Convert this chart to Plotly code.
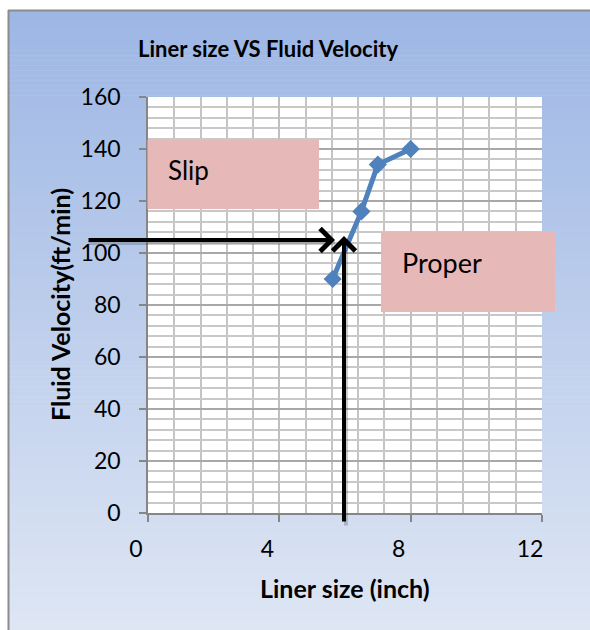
import plotly.graph_objects as go

# ---- data ----
liner_size = [5.625, 6.5, 7.0, 8.0]
fluid_velocity = [90, 116, 134, 140]
x_ticks = [0, 4, 8, 12]
y_ticks = [0, 20, 40, 60, 80, 100, 120, 140, 160]
title_text = "Liner size VS Fluid Velocity"
x_title = "Liner size (inch)"
y_title = "Fluid Velocity(ft/min)"
box_labels = ["Slip", "Proper"]

# ---- layout geometry (pixels) ----
W, H = 590, 630
ML, MR, MT, MB = 148, 48, 97, 117
L, R, T, B = ML, W - MR, MT, H - MB


def px(x):
    return (x - L) / (R - L)


def py(y):
    return (B - y) / (B - T)


FONT = "Lato"
fig = go.Figure()
fig.add_trace(go.Scatter(
    x=liner_size, y=fluid_velocity, mode="lines+markers",
    line=dict(color="#4F81BD", width=5),
    marker=dict(symbol="diamond", size=14, color="#4F81BD"),
    showlegend=False, hoverinfo="skip",
))

shapes = []
# gradient background
top = (157, 182, 228)
bot = (222, 230, 244)
y0, y1 = 10, 632
n = 124
step = (y1 - y0) / n
for i in range(n):
    t = i / (n - 1)
    c = tuple(round(top[k] + (bot[k] - top[k]) * t) for k in range(3))
    ya = y0 + i * step
    yb = ya + step + 0.6
    shapes.append(dict(type="rect", xref="paper", yref="paper",
                       x0=px(8), x1=px(592), y0=py(yb), y1=py(ya),
                       fillcolor="rgb(%d,%d,%d)" % c, line=dict(width=0), layer="below"))
# border
shapes.append(dict(type="line", xref="paper", yref="paper", x0=px(8.5), x1=px(8.5), y0=py(10), y1=py(632),
                   line=dict(color="#8C8C8C", width=2), layer="below"))
shapes.append(dict(type="line", xref="paper", yref="paper", x0=px(8), x1=px(592), y0=py(10.5), y1=py(10.5),
                   line=dict(color="#8C8C8C", width=2), layer="below"))
# plot area white
shapes.append(dict(type="rect", xref="paper", yref="paper", x0=0, x1=1, y0=0, y1=1,
                   fillcolor="white", line=dict(width=0), layer="below"))
# pink boxes
PINK = "#E6B9B8"
shapes.append(dict(type="rect", xref="paper", yref="paper", x0=px(147.5), x1=px(319), y0=py(209), y1=py(140),
                   fillcolor=PINK, line=dict(width=0), layer="above"))
shapes.append(dict(type="rect", xref="paper", yref="paper", x0=px(381), x1=px(555), y0=py(312), y1=py(232),
                   fillcolor=PINK, line=dict(width=0), layer="above"))

# faint arrow shadows
SHADOW = "rgba(60,60,60,0.25)"
annotations = [
    dict(text="", xref="paper", yref="paper", x=px(335), y=py(243), axref="pixel", ayref="pixel",
         ax=87 - 335, ay=0, showarrow=True, arrowhead=0, arrowwidth=4, arrowcolor=SHADOW),
    dict(text="", xref="paper", yref="paper", x=px(346), y=py(250), axref="pixel", ayref="pixel",
         ax=0, ay=527 - 250, showarrow=True, arrowhead=0, arrowwidth=4, arrowcolor=SHADOW),
    dict(text="<b>%s</b>" % title_text, xref="paper", yref="paper", x=px(268), y=py(48),
         showarrow=False, font=dict(family=FONT, size=22, color="black"), xanchor="center", yanchor="middle"),
    dict(text="<b>%s</b>" % x_title, xref="paper", yref="paper", x=px(345), y=py(588),
         showarrow=False, font=dict(family=FONT, size=25, color="black"), xanchor="center", yanchor="middle"),
    dict(text="<b>%s</b>" % y_title, xref="paper", yref="paper", x=px(60), y=py(305), textangle=-90,
         showarrow=False, font=dict(family=FONT, size=25, color="black"), xanchor="center", yanchor="middle"),
    dict(text=box_labels[0], xref="paper", yref="paper", x=px(166), y=py(170),
         showarrow=False, font=dict(family=FONT, size=26, color="black"), xanchor="left", yanchor="middle"),
    dict(text=box_labels[1], xref="paper", yref="paper", x=px(400), y=py(262),
         showarrow=False, font=dict(family=FONT, size=27, color="black"), xanchor="left", yanchor="middle"),
    # arrows
    dict(text="", xref="paper", yref="paper", x=px(335), y=py(240), axref="pixel", ayref="pixel",
         ax=87 - 335, ay=0, showarrow=True, arrowhead=4, arrowwidth=4, arrowsize=1.1, arrowcolor="black"),
    dict(text="", xref="paper", yref="paper", x=px(344), y=py(236), axref="pixel", ayref="pixel",
         ax=0, ay=523 - 236, showarrow=True, arrowhead=4, arrowwidth=4, arrowsize=1.1, arrowcolor="black"),
]

AX_COLOR = "#868686"
fig.update_layout(
    width=W, height=H,
    margin=dict(l=ML, r=MR, t=MT, b=MB, pad=0),
    paper_bgcolor="white", plot_bgcolor="white",
    shapes=shapes, annotations=annotations,
    xaxis=dict(range=[0, 12], tickvals=x_ticks, ticktext=[str(v) for v in x_ticks],
               showgrid=True, gridcolor="#BFBFBF", gridwidth=2,
               minor=dict(dtick=0.8, tick0=0, showgrid=True, gridcolor="#C4C4C4", gridwidth=2, ticks=""),
               ticks="outside", ticklen=7, tickwidth=1.5, tickcolor=AX_COLOR,
               showline=True, linecolor=AX_COLOR, linewidth=1.5, zeroline=False,
               tickfont=dict(family=FONT, size=23, color="black"),
               ticklabelshift=-12, ticklabelstandoff=8, fixedrange=True),
    yaxis=dict(range=[0, 160], tickvals=y_ticks, ticktext=[str(v) for v in y_ticks],
               showgrid=True, gridcolor="#A8A8A8", gridwidth=2,
               minor=dict(dtick=4, tick0=0, showgrid=True, gridcolor="#C8C8C8", gridwidth=2, ticks=""),
               ticks="outside", ticklen=7, tickwidth=1.5, tickcolor=AX_COLOR,
               showline=True, linecolor=AX_COLOR, linewidth=1.5, zeroline=False,
               tickfont=dict(family=FONT, size=23, color="black"),
               ticklabelstandoff=14, fixedrange=True),
)

fig.write_html("out.html")
